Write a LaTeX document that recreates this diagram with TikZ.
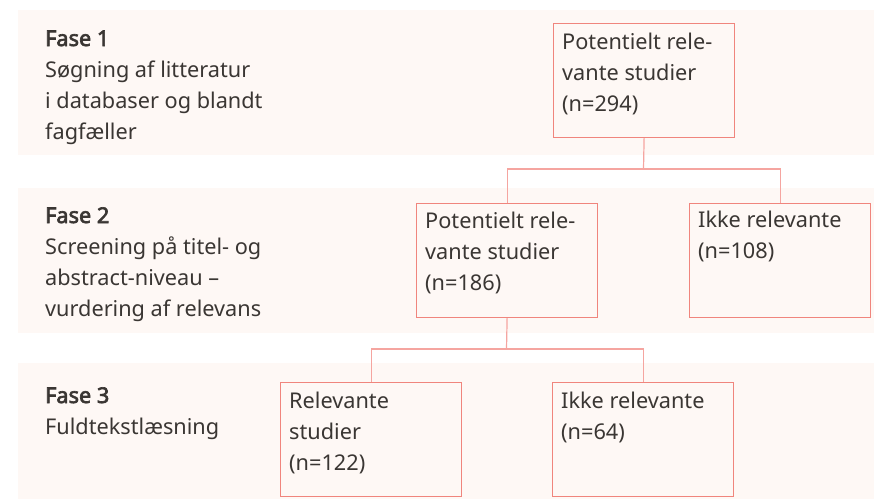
\documentclass[tikz,border=0pt]{standalone}
\usepackage{fontspec}
\setmainfont{Noto Sans}[AutoFakeBold=3]
\definecolor{band}{HTML}{FEF8F5}
\definecolor{boxline}{HTML}{F0857D}
\definecolor{linkcol}{HTML}{F5A5A0}
\definecolor{ink}{HTML}{3A3633}
\begin{document}
\begin{tikzpicture}[x=1pt,y=-1pt,
  bandbox/.style={fill=band, draw=none},
  studybox/.style={draw=boxline, line width=1.2pt, fill=band, anchor=north west,
    minimum width=181pt, minimum height=114pt, inner sep=0pt},
  boxtext/.style={anchor=base west, align=left, font=\fontsize{21.7}{31}\selectfont,
    text=ink, inner sep=0pt},
  phasetext/.style={anchor=base west, align=left, font=\fontsize{21.7}{31}\selectfont,
    text=ink, inner sep=0pt},
  link/.style={draw=linkcol, line width=1.2pt}]
\useasboundingbox (0,0) rectangle (874,499);
% bands
\fill[bandbox] (18,10) rectangle (874,155);
\fill[bandbox] (18,188) rectangle (874,333);
\fill[bandbox] (18,363) rectangle (874,499);
% phase labels (anchor = baseline of last line)
\node[phasetext] (f1) at (45,139) {\textbf{Fase 1}\\Søgning af litteratur\\i databaser og blandt\\fagfæller};
\node[phasetext] (f2) at (45,316) {\textbf{Fase 2}\\Screening på titel- og\\abstract-niveau –\\vurdering af relevans};
\node[phasetext] (f3) at (45,434) {\textbf{Fase 3}\\Fuldtekstlæsning};
% boxes
\node[studybox] (b1) at (553,23) {};
\node[studybox] (b2) at (416,203) {};
\node[studybox] (b3) at (689,203) {};
\node[studybox] (b4) at (280,382) {};
\node[studybox] (b5) at (552,382) {};
% box texts
\node[boxtext] (t1) at ([shift={(9,88)}]b1.north west) {Potentielt rele-\\vante studier\\(n=294)};
\node[boxtext] (t2) at ([shift={(9,87)}]b2.north west) {Potentielt rele-\\vante studier\\(n=186)};
\node[boxtext] (t3) at ([shift={(9,55)}]b3.north west) {Ikke relevante\\(n=108)};
\node[boxtext] (t4) at ([shift={(9,88)}]b4.north west) {Relevante\\studier\\(n=122)};
\node[boxtext] (t5) at ([shift={(9,57)}]b5.north west) {Ikke relevante\\(n=64)};
% connectors
\coordinate (j1) at (643.5,169);
\coordinate (j2) at (506.5,349);
\draw[link] (b1.south) -- (j1);
\draw[link] (b2.north) |- (j1) -| (b3.north);
\draw[link] (b2.south) -- (j2);
\draw[link] (b4.north) |- (j2) -| (b5.north);
\end{tikzpicture}
\end{document}
